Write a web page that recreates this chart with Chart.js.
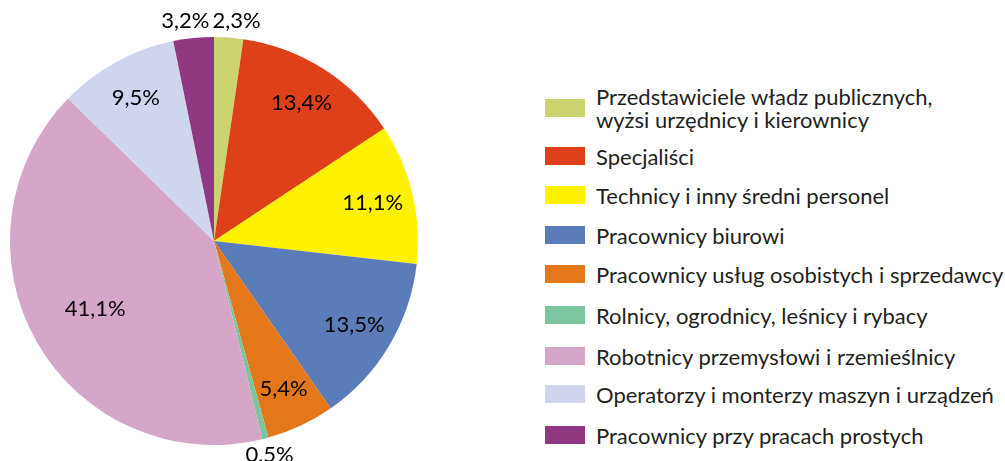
<!DOCTYPE html>
<html>
<head>
<meta charset="utf-8">
<script src="https://cdn.jsdelivr.net/npm/chart.js@4.4.1/dist/chart.umd.min.js"></script>
<style>
  body { margin: 0; background: #fff; }
  #wrap { position: relative; width: 1005px; height: 461px; }
  #pieBox { position: absolute; left: 0; top: 0; width: 428px; height: 461px; }
  #legend { position: absolute; left: 545px; top: 0; font-family: Lato, sans-serif; font-size: 22px; color: #231f20; }
  .item { position: absolute; left: 0; display: flex; align-items: center; white-space: nowrap; }
  .box { width: 40px; height: 18px; margin-right: 11px; flex: none; }
  .txt { line-height: 23px; }
</style>
</head>
<body>
<div id="wrap">
  <div id="pieBox"><canvas id="canvas"></canvas></div>
  <div id="legend"></div>
</div>
<script>
const categories = [
  ["Przedstawiciele władz publicznych,", "wyżsi urzędnicy i kierownicy"],
  "Specjaliści",
  "Technicy i inny średni personel",
  "Pracownicy biurowi",
  "Pracownicy usług osobistych i sprzedawcy",
  "Rolnicy, ogrodnicy, leśnicy i rybacy",
  "Robotnicy przemysłowi i rzemieślnicy",
  "Operatorzy i monterzy maszyn i urządzeń",
  "Pracownicy przy pracach prostych"
]
const shares = [2.3, 13.4, 11.1, 13.5, 5.4, 0.5, 41.1, 9.5, 3.2]
const colors = ["#cbd46f", "#de411a", "#fff200", "#5a7cb9", "#e47719", "#7cc59e", "#d6a6c8", "#cfd5ec", "#913883"]

// legend rows (centre y of each box)
const legendY = [108, 156, 195, 235, 274, 315, 356, 394, 435]
const legend = document.querySelector("#legend")
for (let i = 0; i < categories.length; i++) {
  const item = document.createElement("div")
  item.className = "item"
  const lines = Array.isArray(categories[i]) ? categories[i] : [categories[i]]
  item.style.top = (legendY[i] - lines.length * 23 / 2) + "px"
  item.style.height = (lines.length * 23) + "px"
  item.innerHTML = "<div class='box' style='background:" + colors[i] + "'></div><div class='txt'>" + lines.join("<br>") + "</div>"
  legend.appendChild(item)
}

const pctLabels = {
  id: "pctLabels",
  afterDatasetsDraw(chart) {
    const ctx = chart.ctx
    const meta = chart.getDatasetMeta(0)
    ctx.save()
    ctx.font = "22px Lato, sans-serif"
    ctx.fillStyle = "#000"
    ctx.textAlign = "center"
    ctx.textBaseline = "middle"
    const placed = []
    meta.data.forEach((arc, i) => {
      const mid = (arc.startAngle + arc.endAngle) / 2
      const small = shares[i] < 4
      const f = shares[i] > 25 ? 0.67 : 0.8
      const r = small ? arc.outerRadius + 17 : arc.outerRadius * f
      const text = shares[i].toFixed(1).replace(".", ",") + "%"
      placed.push({
        text: text,
        small: small,
        x: arc.x + Math.cos(mid) * r,
        y: arc.y + Math.sin(mid) * r,
        w: ctx.measureText(text).width
      })
    })
    // push apart outside labels that overlap (first and last slice at the top)
    const outs = placed.filter(p => p.small).sort((a, b) => a.x - b.x)
    for (let k = 1; k < outs.length; k++) {
      const a = outs[k - 1], b = outs[k]
      if (Math.abs(a.y - b.y) < 22) {
        const overlap = (a.w + b.w) / 2 + 3 - (b.x - a.x)
        if (overlap > 0) {
          a.x -= overlap / 2
          b.x += overlap / 2
        }
      }
    }
    placed.forEach(p => ctx.fillText(p.text, p.x, p.y))
    ctx.restore()
  }
}

new Chart(document.getElementById("canvas"), {
  type: "pie",
  data: {
    labels: categories,
    datasets: [{
      data: shares,
      backgroundColor: colors,
      borderWidth: 0
    }]
  },
  options: {
    responsive: true,
    maintainAspectRatio: false,
    animation: false,
    layout: { padding: { top: 37, bottom: 16, left: 0, right: 0 } },
    plugins: {
      legend: { display: false },
      tooltip: { enabled: false }
    }
  },
  plugins: [pctLabels]
})
</script>
</body>
</html>
